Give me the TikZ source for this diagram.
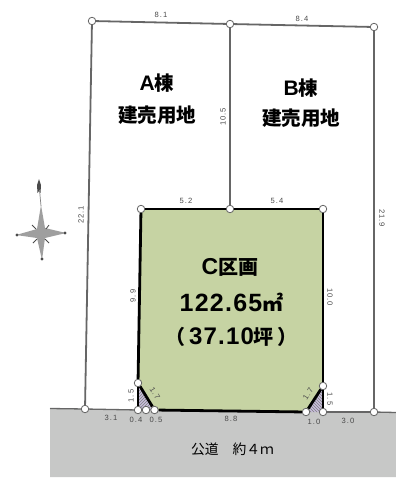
\documentclass[tikz,border=0pt]{standalone}
\usepackage{fontspec}
\usetikzlibrary{backgrounds,patterns}
\setmainfont{Liberation Sans}
\newfontfamily\jpfont{Noto Sans CJK JP}
\newfontfamily\dimfont[LetterSpace=14]{Liberation Sans}
\newfontfamily\numfont[LetterSpace=5]{Liberation Sans}
\definecolor{plotgreen}{HTML}{C6D3A3}
\definecolor{roadgray}{HTML}{C7C8C7}
\definecolor{hatchviolet}{HTML}{C8BEDC}
\definecolor{linegray}{HTML}{666666}
\definecolor{dimgray}{HTML}{4A4A4A}

\begin{document}
\begin{tikzpicture}[
        x=1pt, y=-1pt,
        boundary/.style={draw=linegray, line width=1.8pt},
        roadline/.style={draw=linegray, line width=1.3pt},
        plotline/.style={draw=black, line width=2.8pt},
        stake/.style={circle, draw=linegray, line width=.8pt, fill=white, inner sep=0pt, minimum size=7.5pt},
        dimlabel/.style={text=dimgray, font=\dimfont\fontsize{7.6}{8}\selectfont, inner sep=0pt},
        title/.style={text=black, font=\jpfont\bfseries\fontsize{19.5}{21}\selectfont, inner sep=0pt}
    ]
    \useasboundingbox (0,0) rectangle (396,479);

    % Nodes
    \node[stake] (topleft) at (92,21) {};
    \node[stake] (topmid) at (230,24) {};
    \node[stake] (topright) at (374,27) {};
    \node[stake] (roadleft) at (85,409) {};
    \node[stake] (roadright) at (374,412) {};
    \node[stake] (plotleft) at (141,209) {};
    \node[stake] (plotmid) at (230,209) {};
    \node[stake] (plotright) at (323,209) {};
    \node[stake] (cutleft) at (138,383) {};
    \node[stake] (footleft) at (138,410) {};
    \node[stake] (footmid) at (146,410) {};
    \node[stake] (footinner) at (154.5,410) {};
    \node[stake] (cutright) at (323,386) {};
    \node[stake] (footright) at (323,412) {};
    \node[stake] (footback) at (306,412) {};
    \coordinate (roadstart) at (50,408.5);
    \coordinate (roadend) at (396,412.5);

    % Fills
    \begin{scope}[on background layer]
        \fill[roadgray] (roadstart) -- (roadend) -- (396,477) -- (50,477) -- cycle;
        \fill[plotgreen] (plotleft.center) -- (plotmid.center) -- (plotright.center) -- (footright.center) -- (footinner.center) -- (footleft.center) -- cycle;
        \fill[hatchviolet] (cutleft.center) -- (footinner.center) -- (footleft.center) -- cycle;
        \fill[hatchviolet] (cutright.center) -- (footright.center) -- (footback.center) -- cycle;
        \fill[pattern=north east lines, pattern color=gray] (cutleft.center) -- (footinner.center) -- (footleft.center) -- cycle;
        \fill[pattern=north west lines, pattern color=gray] (cutright.center) -- (footright.center) -- (footback.center) -- cycle;
    \end{scope}

    % Edges
    \draw[boundary] (topleft) -- (topmid);
    \draw[boundary] (topmid) -- (topright);
    \draw[boundary] (topleft) -- (roadleft);
    \draw[boundary] (topmid) -- (plotmid);
    \draw[boundary] (topright) -- (roadright);
    \draw[roadline] (roadstart) -- (roadleft);
    \draw[roadline] (roadleft) -- (footleft);
    \draw[roadline] (footright) -- (roadright);
    \draw[roadline] (roadright) -- (roadend);

    \draw[plotline] (plotleft) -- (plotmid);
    \draw[plotline] (plotmid) -- (plotright);
    \draw[plotline] (plotleft) -- (cutleft);
    \draw[plotline] (cutleft) -- (footleft);
    \draw[plotline] (cutleft) -- (footinner);
    \draw[plotline] (footinner) -- (footback);
    \draw[plotline] (footback) -- (cutright);
    \draw[plotline] (cutright) -- (footright);
    \draw[plotline] (plotright) -- (cutright);

    % Titles
    \node[title] (blocka) at (157,83) {{\rmfamily\fontsize{21}{21}\selectfont A}棟};
    \node[title] (usea) at (157,115) {建売用地};
    \node[title] (blockb) at (301,88) {{\rmfamily\fontsize{21}{21}\selectfont B}棟};
    \node[title] (useb) at (301,118) {建売用地};
    \node[title, font=\jpfont\bfseries\fontsize{20}{22}\selectfont] (blockc) at (230,267) {{\rmfamily\fontsize{23}{23}\selectfont C}区画};
    \node[title, font=\numfont\bfseries\fontsize{25}{27}\selectfont] (area) at (231.5,302) {122.65{\jpfont\fontsize{21}{21}\selectfont ㎡}};
    \node[title, font=\jpfont\bfseries\fontsize{20}{22}\selectfont] (tsubo) at (231.5,337) {（\hspace{4pt}{\numfont\fontsize{24}{24}\selectfont 37.10}坪\hspace{4pt}）};
    \node[text=black, font=\jpfont\fontsize{13.8}{15}\selectfont, inner sep=0pt] (road) at (232.5,449) {公道　約４ｍ};

    % Dimensions
    \node[dimlabel] (dimtopa) at (161,15) {8.1};
    \node[dimlabel] (dimtopb) at (302,19) {8.4};
    \node[dimlabel, rotate=90] (dimmid) at (223,117) {10.5};
    \node[dimlabel, rotate=90] (dimleft) at (81,215) {22.1};
    \node[dimlabel, rotate=-90] (dimright) at (382,218) {21.9};
    \node[dimlabel] (dimplota) at (186,201) {5.2};
    \node[dimlabel] (dimplotb) at (277,201) {5.4};
    \node[dimlabel, rotate=90] (dimplotl) at (133,296) {9.9};
    \node[dimlabel, rotate=-90] (dimplotr) at (330,297) {10.0};
    \node[dimlabel, rotate=90] (dimcutl) at (131,396) {1.5};
    \node[dimlabel, rotate=-58] (dimslantl) at (155,393) {1.7};
    \node[dimlabel] (dimroada) at (111,418) {3.1};
    \node[dimlabel] (dimfoota) at (136,420) {0.4};
    \node[dimlabel] (dimfootb) at (156,420) {0.5};
    \node[dimlabel] (dimfront) at (231,419) {8.8};
    \node[dimlabel, rotate=58] (dimslantr) at (308,394) {1.7};
    \node[dimlabel, rotate=-90] (dimcutr) at (330,399) {1.5};
    \node[dimlabel] (dimfootc) at (314,422) {1.0};
    \node[dimlabel] (dimroadb) at (348,421) {3.0};

    % Compass
    \fill[dimgray] (39,179) -- (41,185) -- (40.5,193) -- (39,191) -- (37.5,193) -- (37,185) -- cycle;
    \draw[gray, line width=.7pt] (39.5,190) -- (41,206);
    \fill[gray!75] (41,205) -- (45,228) -- (66,233) -- (45,238) -- (42,260) -- (37,238) -- (16,235) -- (37,229) -- cycle;
    \draw[dimgray, line width=.8pt] (32,225) -- (36,229) (49,225) -- (46,229) (33,243) -- (37,239) (49,243) -- (45,239);
    \fill[dimgray] (17,235) circle (1.6pt) (65,233) circle (1.6pt) (42,259) circle (1.6pt);
\end{tikzpicture}
\end{document}
